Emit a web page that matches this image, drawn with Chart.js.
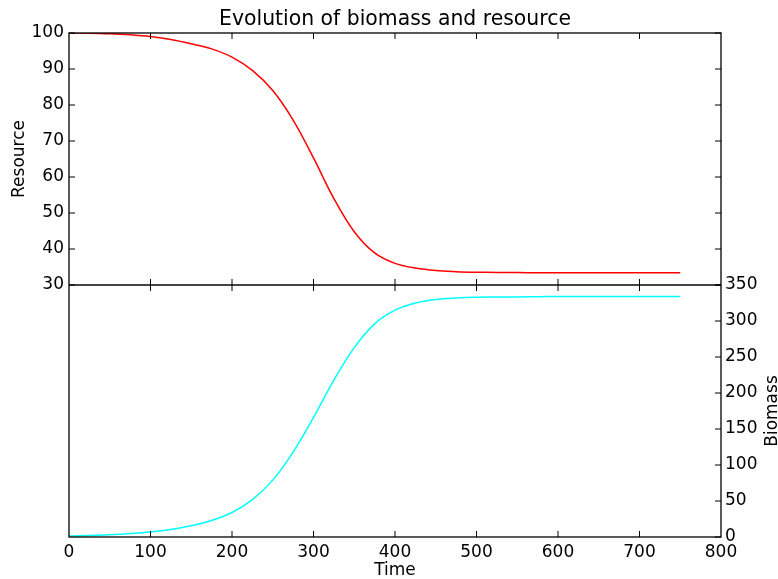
<!DOCTYPE html>
<html>
<head>
<meta charset="utf-8">
<title>Evolution of biomass and resource</title>
<script src="https://cdn.jsdelivr.net/npm/chart.js@4.4.1/dist/chart.umd.min.js"></script>
<style>
  html, body { margin: 0; padding: 0; background: #fff; }
  #wrap { width: 778px; height: 579px; }
</style>
</head>
<body>
<div id="wrap"><canvas id="chart" width="778" height="579"></canvas></div>
<script>
// values, every 25 time units
var time = [0, 25, 50, 75, 100, 125, 150, 175, 200, 225, 250, 275, 300, 325, 350, 375, 400, 425, 450, 475, 500, 525, 550, 575, 600, 625, 650, 675, 700, 725, 750];
var resource = [100, 99.95, 99.8, 99.5, 99.0, 98.2, 97.0, 95.6, 93.3, 89.6, 84.0, 75.8, 65.3, 54.0, 44.8, 38.9, 36.0, 34.7, 34.0, 33.7, 33.55, 33.5, 33.45, 33.4, 33.4, 33.4, 33.4, 33.4, 33.4, 33.4, 33.4];
var biomass = [1.5, 2.2, 3.2, 4.8, 7, 10.5, 15.5, 23, 34, 52, 79, 118, 166, 218, 263, 296, 315, 325, 330, 332, 333, 333.3, 333.5, 333.7, 334, 334, 334, 334, 334, 334, 334];

var timeTicks = [0, 100, 200, 300, 400, 500, 600, 700, 800];
var resourceTicks = [30, 40, 50, 60, 70, 80, 90, 100];
var biomassTicks = [0, 50, 100, 150, 200, 250, 300, 350];

var titleText = "Evolution of biomass and resource";
var xLabel = "Time";
var resourceLabel = "Resource";
var biomassLabel = "Biomass";

function points(xs, ys) {
  return xs.map(function (t, i) { return { x: t, y: ys[i] }; });
}

var font = "DejaVu Sans";

// frame, inward ticks, divider and texts, in the old matplotlib look
var framePlugin = {
  id: "frame",
  afterDatasetsDraw: function (chart) {
    var ctx = chart.ctx;
    var a = chart.chartArea;
    var sx = chart.scales.x, yr = chart.scales.yRes, yb = chart.scales.yBio;
    var mid = yr.getPixelForValue(30);
    var tl = 6;
    function line(x1, y1, x2, y2) {
      ctx.beginPath();
      ctx.moveTo(x1, y1);
      ctx.lineTo(x2, y2);
      ctx.stroke();
    }
    ctx.save();
    ctx.strokeStyle = "#444";
    ctx.lineWidth = 2;
    line(a.left, mid, a.right, mid);

    ctx.strokeStyle = "#000";
    ctx.lineWidth = 1.3;
    ctx.strokeRect(a.left, a.top, a.right - a.left, a.bottom - a.top);

    ctx.lineWidth = 1;
    timeTicks.forEach(function (v) {
      if (v === sx.min || v === sx.max) return;
      var px = sx.getPixelForValue(v);
      line(px, a.top, px, a.top + tl);
      line(px, mid - tl, px, mid + tl);
      line(px, a.bottom - tl, px, a.bottom);
    });
    resourceTicks.forEach(function (v) {
      var py = yr.getPixelForValue(v);
      line(a.left, py, a.left + tl, py);
      line(a.right - tl, py, a.right, py);
    });
    biomassTicks.forEach(function (v) {
      var py = yb.getPixelForValue(v);
      line(a.right - tl, py, a.right, py);
    });

    ctx.fillStyle = "#000";
    ctx.textAlign = "center";
    ctx.textBaseline = "alphabetic";
    ctx.font = "20.4px '" + font + "'";
    ctx.fillText(titleText, (a.left + a.right) / 2, 25);

    ctx.font = "17px '" + font + "'";
    ctx.fillText(xLabel, (a.left + a.right) / 2, 575);

    ctx.save();
    ctx.translate(24, (a.top + mid) / 2);
    ctx.rotate(-Math.PI / 2);
    ctx.fillText(resourceLabel, 0, 0);
    ctx.restore();

    ctx.save();
    ctx.translate(777, (mid + a.bottom) / 2);
    ctx.rotate(-Math.PI / 2);
    ctx.fillText(biomassLabel, 0, 0);
    ctx.restore();

    ctx.restore();
  }
};

var tickFont = { family: font, size: 17 };

var chart = new Chart(document.getElementById("chart").getContext("2d"), {
  type: "line",
  data: {
    datasets: [
      {
        label: resourceLabel,
        data: points(time, resource),
        yAxisID: "yRes",
        borderColor: "#ff0000",
        borderWidth: 1.5,
        pointRadius: 0,
        tension: 0.35,
        fill: false,
      },
      {
        label: biomassLabel,
        data: points(time, biomass),
        yAxisID: "yBio",
        borderColor: "#00ffff",
        borderWidth: 1.5,
        pointRadius: 0,
        tension: 0.35,
        fill: false,
      },
    ],
  },
  options: {
    responsive: false,
    animation: false,
    events: [],
    layout: { padding: { top: 33, left: 0, right: 0, bottom: 0 } },
    plugins: {
      legend: { display: false },
      title: { display: false },
      tooltip: { enabled: false },
    },
    scales: {
      x: {
        type: "linear",
        min: 0,
        max: 800,
        afterBuildTicks: function (scale) {
          scale.ticks = timeTicks.map(function (v) { return { value: v }; });
        },
        afterFit: function (scale) { scale.height = 42; },
        grid: { display: false, drawTicks: false },
        border: { display: false },
        ticks: { color: "#000", font: tickFont, padding: 5, maxRotation: 0, autoSkip: false },
      },
      yRes: {
        type: "linear",
        position: "left",
        min: -40,
        max: 100,
        afterBuildTicks: function (scale) {
          scale.ticks = resourceTicks.map(function (v) { return { value: v }; });
        },
        afterFit: function (scale) { scale.width = 69; },
        grid: { display: false, drawTicks: false },
        border: { display: false },
        ticks: { color: "#000", font: tickFont, padding: 5 },
      },
      yBio: {
        type: "linear",
        position: "right",
        min: 0,
        max: 700,
        afterBuildTicks: function (scale) {
          scale.ticks = biomassTicks.map(function (v) { return { value: v }; });
        },
        afterFit: function (scale) { scale.width = 57; },
        grid: { display: false, drawTicks: false },
        border: { display: false },
        ticks: { color: "#000", font: tickFont, padding: 4 },
      },
    },
  },
  plugins: [framePlugin],
});
</script>
</body>
</html>
